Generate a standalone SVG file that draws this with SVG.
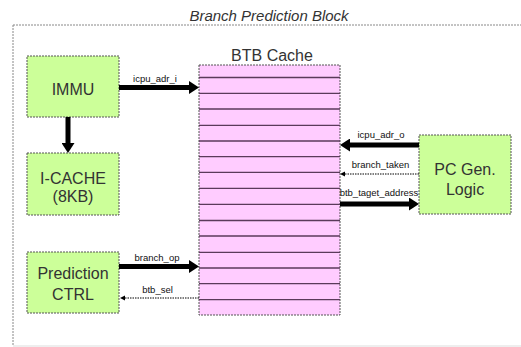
<svg xmlns="http://www.w3.org/2000/svg" width="521" height="347" viewBox="0 0 521 347">
<style>
.box{fill:#ccff99;stroke:#555;stroke-width:1;stroke-dasharray:2 1}
.cache{fill:#ffccff;stroke:#555;stroke-width:1;stroke-dasharray:2 1}
.row{stroke:#5a3a5a;stroke-width:1.3}
.lbl{font-family:"Liberation Sans",Arial,sans-serif;font-size:16px;fill:#333;text-anchor:middle}
.sig{font-family:"Liberation Sans",Arial,sans-serif;font-size:9.5px;fill:#111;text-anchor:middle}
.thick{stroke:#000;stroke-width:5;fill:none}
.thin{stroke:#000;stroke-width:1;stroke-dasharray:1.5 1;fill:none}
</style>
<defs>
<marker id="hd" markerUnits="userSpaceOnUse" markerWidth="10" markerHeight="13" refX="0" refY="6.5" orient="auto">
<path d="M0,0 L10,6.5 L0,13 Z" fill="#000"/>
</marker>
<marker id="hs" markerUnits="userSpaceOnUse" markerWidth="6" markerHeight="6" refX="0" refY="3" orient="auto">
<path d="M0,0.5 L5,3 L0,5.5 Z" fill="#000"/>
</marker>
</defs>
<rect width="521" height="347" fill="#fff"/>
<g id="frame">
<line x1="13" y1="25" x2="521" y2="25" stroke="#888" stroke-width="1" stroke-dasharray="2 1"/>
<line x1="13" y1="25" x2="13" y2="346" stroke="#888" stroke-width="1" stroke-dasharray="2 1"/>
<line x1="13" y1="346" x2="521" y2="346" stroke="#ddd" stroke-width="1"/>
<text x="269" y="21" font-family="'Liberation Sans',Arial,sans-serif" font-size="15" font-style="italic" fill="#333" text-anchor="middle">Branch Prediction Block</text>
</g>
<g id="immu">
<rect class="box" x="27" y="56" width="92" height="61"/>
<text class="lbl" x="73" y="95">IMMU</text>
</g>
<g id="icache">
<rect class="box" x="27" y="153" width="92" height="62"/>
<text class="lbl" x="73" y="184">I-CACHE</text>
<text class="lbl" x="73" y="202">(8KB)</text>
</g>
<g id="predctrl">
<rect class="box" x="27" y="252" width="92" height="61"/>
<text class="lbl" x="73" y="279">Prediction</text>
<text class="lbl" x="73" y="300">CTRL</text>
</g>
<g id="pcgen">
<rect class="box" x="419" y="135" width="92" height="79"/>
<text class="lbl" x="465" y="175">PC Gen.</text>
<text class="lbl" x="465" y="195">Logic</text>
</g>
<g id="btb">
<text class="lbl" x="272" y="61">BTB Cache</text>
<rect class="cache" x="199" y="65" width="141" height="250"/>
<g class="row">
<line x1="199" y1="77.5" x2="340" y2="77.5"/>
<line x1="199" y1="93.3" x2="340" y2="93.3"/>
<line x1="199" y1="109" x2="340" y2="109"/>
<line x1="199" y1="125.3" x2="340" y2="125.3"/>
<line x1="199" y1="141" x2="340" y2="141"/>
<line x1="199" y1="156.7" x2="340" y2="156.7"/>
<line x1="199" y1="172.3" x2="340" y2="172.3"/>
<line x1="199" y1="188.3" x2="340" y2="188.3"/>
<line x1="199" y1="204.3" x2="340" y2="204.3"/>
<line x1="199" y1="220.5" x2="340" y2="220.5"/>
<line x1="199" y1="236" x2="340" y2="236"/>
<line x1="199" y1="252.3" x2="340" y2="252.3"/>
<line x1="199" y1="268" x2="340" y2="268"/>
<line x1="199" y1="283.7" x2="340" y2="283.7"/>
<line x1="199" y1="299.7" x2="340" y2="299.7"/>
</g>
</g>
<g id="connectors">
<line class="thick" x1="68" y1="117" x2="68" y2="143" marker-end="url(#hd)"/>
<line class="thick" x1="119" y1="87.5" x2="189" y2="87.5" marker-end="url(#hd)"/>
<text class="sig" x="155" y="82">icpu_adr_i</text>
<line class="thick" x1="119" y1="266.5" x2="189" y2="266.5" marker-end="url(#hd)"/>
<text class="sig" x="157" y="261">branch_op</text>
<line class="thin" x1="199" y1="298" x2="125" y2="298" marker-end="url(#hs)"/>
<text class="sig" x="157.5" y="293">btb_sel</text>
<line class="thick" x1="419" y1="145" x2="350" y2="145" marker-end="url(#hd)"/>
<text class="sig" x="381" y="138">icpu_adr_o</text>
<line class="thin" x1="419" y1="174" x2="345" y2="174" marker-end="url(#hs)"/>
<text class="sig" x="380.5" y="168">branch_taken</text>
<line class="thick" x1="340" y1="204" x2="409" y2="204" marker-end="url(#hd)"/>
<text class="sig" x="379" y="196">btb_taget_address</text>
</g>
</svg>
